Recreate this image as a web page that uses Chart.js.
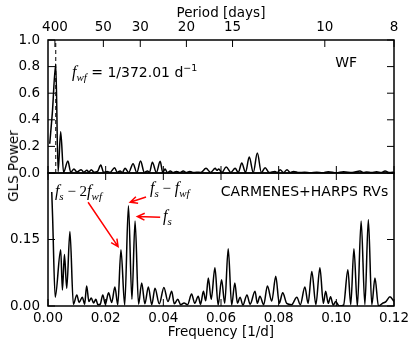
<!DOCTYPE html>
<html>
<head>
<meta charset="utf-8">
<script src="https://cdn.jsdelivr.net/npm/chart.js@4"></script>
<style>
html, body { margin:0; padding:0; background:#fff; }
#wrap { position:relative; width:415px; height:350px; overflow:hidden; }
#wrap canvas { position:absolute; left:0; }
#topChart { top:0; }
#botChart { top:164px; }
#ylab { position:absolute; left:13px; top:166px; transform:translate(-50%,-50%) rotate(-90deg);
        font:13.5px "DejaVu Sans", sans-serif; white-space:nowrap; color:#000; }
</style>
</head>
<body>
<div id="wrap">
  <canvas id="topChart" width="415" height="182"></canvas>
  <canvas id="botChart" width="415" height="186"></canvas>
  <div id="ylab">GLS Power</div>
</div>
<script>
// GLS periodograms: window function (top) and RVs (bottom)
const FWF = 1/372.01;
const periodTicks = [400, 50, 30, 20, 15, 10, 8];

const wfFreq = [0.0006,0.0015,0.0027,0.0035,0.0044,0.0054,0.0069,0.0079,0.0090,0.0100,
  0.0115,0.0124,0.0135,0.0142,0.0150,0.0160,0.0172,0.0183,0.0193,0.0205,
  0.0215,0.0231,0.0240,0.0250,0.0258,0.0267,0.0280,0.0295,0.0308,0.0321,
  0.0334,0.0345,0.0352,0.0362,0.0376,0.0389,0.0398,0.0406,0.0414,0.0424,
  0.0434,0.0446,0.0457,0.0469,0.0480,0.0492,0.0504,0.0515,0.0530,0.0548,
  0.0564,0.0580,0.0586,0.0592,0.0603,0.0618,0.0634,0.0649,0.0660,0.0672,
  0.0685,0.0698,0.0712,0.0726,0.0740,0.0753,0.0767,0.0787,0.0796,0.0805,
  0.0817,0.0829,0.0840,0.0852,0.0870,0.0890,0.0910,0.0932,0.0952,0.0972,
  0.1000,0.1025,0.1055,0.1082,0.1095,0.1105,0.1122,0.1140,0.1155,0.1169,
  0.1185,0.1200];
const wfPow = [0.22,0.45,0.82,0.01,0.31,0.005,0.09,0.005,0.03,0.008,
  0.025,0.006,0.02,0.006,0.025,0.005,0.012,0.06,0.004,0.012,
  0.004,0.04,0.005,0.015,0.004,0.035,0.004,0.07,0.003,0.09,
  0.004,0.015,0.004,0.08,0.003,0.088,0.004,0.03,0.004,0.015,
  0.003,0.012,0.003,0.015,0.003,0.012,0.003,0.006,0.004,0.035,
  0.004,0.035,0.02,0.03,0.004,0.045,0.004,0.035,0.004,0.075,
  0.004,0.12,0.004,0.15,0.004,0.04,0.003,0.012,0.003,0.025,
  0.003,0.025,0.003,0.012,0.003,0.006,0.002,0.006,0.002,0.01,
  0.002,0.01,0.003,0.015,0.003,0.008,0.003,0.01,0.003,0.015,
  0.003,0.006];

const rvFreq = [0.0013,0.0016,0.0025,0.0044,0.0050,0.0057,0.0065,0.0076,0.0088,0.0100,
  0.0108,0.0119,0.0127,0.0134,0.0142,0.0150,0.0158,0.0166,0.0173,0.0181,
  0.0190,0.0199,0.0210,0.0221,0.0232,0.0242,0.0253,0.0266,0.0279,0.0291,
  0.0302,0.0314,0.0325,0.0336,0.0348,0.0360,0.0371,0.0386,0.0402,0.0416,
  0.0429,0.0438,0.0450,0.0460,0.0472,0.0484,0.0498,0.0509,0.0521,0.0529,
  0.0539,0.0547,0.0556,0.0566,0.0579,0.0590,0.0602,0.0613,0.0625,0.0637,
  0.0648,0.0657,0.0666,0.0676,0.0690,0.0701,0.0718,0.0726,0.0735,0.0748,
  0.0761,0.0776,0.0790,0.0802,0.0814,0.0828,0.0845,0.0863,0.0875,0.0891,
  0.0902,0.0915,0.0929,0.0943,0.0955,0.0963,0.0972,0.0980,0.0989,0.0998,
  0.1010,0.1025,0.1040,0.1050,0.1061,0.1073,0.1086,0.1099,0.1111,0.1123,
  0.1134,0.1146,0.1160,0.1172,0.1186,0.1200];
const rvPow = [0.257,0.20,0.02,0.127,0.036,0.116,0.04,0.168,0.004,0.025,
  0.008,0.02,0.004,0.045,0.01,0.018,0.007,0.015,0.003,0.004,
  0.025,0.004,0.03,0.008,0.043,0.003,0.127,0.002,0.226,0.015,
  0.192,0.004,0.052,0.005,0.043,0.003,0.04,0.005,0.042,0.01,
  0.033,0.005,0.015,0.003,0.007,0.003,0.027,0.006,0.022,0.004,
  0.033,0.012,0.063,0.015,0.086,0.002,0.059,0.006,0.129,0.002,
  0.052,0.006,0.02,0.002,0.025,0.004,0.033,0.006,0.022,0.003,
  0.045,0.011,0.067,0.006,0.03,0.006,0.003,0.02,0.003,0.043,
  0.006,0.078,0.003,0.086,0.006,0.033,0.006,0.021,0.002,0.01,
  0.0,0.002,0.082,0.003,0.129,0.0,0.192,0.003,0.195,0.003,
  0.063,0.0,0.006,0.01,0.021,0.01];

const FONT = '"DejaVu Sans", sans-serif';
Chart.defaults.font.family = FONT;
Chart.defaults.font.size = 13.5;
Chart.defaults.color = '#000';

const pts = (xs, ys) => xs.map((x, i) => ({x, y: ys[i]}));

// inward ticks on every spine + the frame box
const inTicks = {
  id: 'inTicks',
  afterDraw(chart, args, opts) {
    const {ctx, chartArea: a} = chart;
    const L = 7;
    ctx.save();
    ctx.strokeStyle = '#000';
    ctx.lineWidth = 1;
    ctx.beginPath();
    Object.values(chart.scales).forEach(s => {
      s.ticks.forEach(t => {
        const p = s.getPixelForValue(t.value);
        if (s.isHorizontal()) {
          if (s.position === 'top' || opts.mirrorX) { ctx.moveTo(p, a.top); ctx.lineTo(p, a.top + L); }
          if (s.position === 'bottom') { ctx.moveTo(p, a.bottom); ctx.lineTo(p, a.bottom - L); }
        } else {
          ctx.moveTo(a.left, p); ctx.lineTo(a.left + L, p);
          ctx.moveTo(a.right, p); ctx.lineTo(a.right - L, p);
        }
      });
    });
    ctx.stroke();
    ctx.lineWidth = 1.5;
    ctx.strokeRect(a.left, a.top, a.width, a.height);
    ctx.restore();
  }
};

const FONTS = {
  i: 'italic 16px "Liberation Serif", serif',
  s: 'italic 11px "Liberation Serif", serif',
  r: '15px "Liberation Serif", serif',
  n: '14px ' + FONT,
  u: '9.5px ' + FONT,
};
const SHIFT = {i: 0, s: 4, r: 0, n: 0, u: -6};

function drawRuns(ctx, runs, x, y, align) {
  let w = 0;
  runs.forEach(([t, k]) => { ctx.font = FONTS[k]; w += ctx.measureText(t).width; });
  let cx = align === 'right' ? x - w : x;
  ctx.textAlign = 'left';
  ctx.textBaseline = 'alphabetic';
  runs.forEach(([t, k]) => {
    ctx.font = FONTS[k];
    ctx.fillText(t, cx, y + SHIFT[k]);
    cx += ctx.measureText(t).width;
  });
}

function drawArrow(ctx, x0, y0, x1, y1) {
  const ang = Math.atan2(y1 - y0, x1 - x0), hl = 8, hw = 0.45;
  ctx.beginPath();
  ctx.moveTo(x0, y0); ctx.lineTo(x1, y1);
  ctx.moveTo(x1 - hl * Math.cos(ang - hw), y1 - hl * Math.sin(ang - hw));
  ctx.lineTo(x1, y1);
  ctx.lineTo(x1 - hl * Math.cos(ang + hw), y1 - hl * Math.sin(ang + hw));
  ctx.stroke();
}

// text + arrows placed in data coordinates
const notes = {
  id: 'notes',
  afterDatasetsDraw(chart, args, opts) {
    const {ctx} = chart;
    const xs = chart.scales.x, ys = chart.scales.y;
    ctx.save();
    ctx.fillStyle = '#000';
    (opts.texts || []).forEach(n => {
      drawRuns(ctx, n.runs, xs.getPixelForValue(n.x), ys.getPixelForValue(n.y), n.align);
    });
    ctx.strokeStyle = '#ff0000';
    ctx.lineWidth = 1.5;
    (opts.arrows || []).forEach(a => {
      drawArrow(ctx, xs.getPixelForValue(a.from[0]), ys.getPixelForValue(a.from[1]),
                     xs.getPixelForValue(a.to[0]), ys.getPixelForValue(a.to[1]));
    });
    ctx.restore();
  }
};

const lineDS = (data) => ({
  data, borderColor: '#000', borderWidth: 1.5, pointRadius: 0,
  cubicInterpolationMode: 'monotone', fill: false,
});

// y label offset comes from tickLength (padding would inflate the layout)
const yGrid = { display: false, drawTicks: true, tickLength: 8 };

new Chart(document.getElementById('topChart'), {
  type: 'line',
  data: { datasets: [
    lineDS(pts(wfFreq, wfPow)),
    { data: [{x: FWF, y: 0}, {x: FWF, y: 1}], borderColor: '#000', borderWidth: 1,
      borderDash: [4, 3], pointRadius: 0 },
  ]},
  options: {
    responsive: false, animation: false, events: [],
    layout: { padding: { left: 0, right: 21, top: 0, bottom: 0 } },
    plugins: { legend: {display: false}, tooltip: {enabled: false},
      inTicks: { mirrorX: false },
      notes: { texts: [
        { x: 0.0083, y: 0.72, runs: [['f','i'], ['wf','s'], [' = 1/372.01 d','n'], ['\u22121','u']] },
        { x: 0.1072, y: 0.80, align: 'right', runs: [['WF','n']] },
      ]},
    },
    scales: {
      x: { type: 'linear', position: 'bottom', min: 0, max: 0.12,
           ticks: { display: false, stepSize: 0.02, padding: 0 },
           grid: { display: false, drawTicks: false }, border: { display: false },
           afterFit: s => { s.height = 9; } },
      x2: { type: 'linear', position: 'top', min: 0, max: 0.125,
            afterBuildTicks: s => { s.ticks = periodTicks.map(p => ({value: 1/p})); },
            ticks: { padding: 4, callback: v => String(Math.round(1/v)) },
            title: { display: true, text: 'Period [days]', padding: {top: 5, bottom: 0} },
            grid: { display: false, drawTicks: false }, border: { display: false },
            afterFit: s => { s.height = 40; } },
      y: { min: 0, max: 1,
           ticks: { stepSize: 0.2, padding: 0, callback: v => v.toFixed(1) },
           grid: yGrid, border: { display: false },
           afterFit: s => { s.width = 48; } },
    },
  },
  plugins: [inTicks, notes],
});

new Chart(document.getElementById('botChart'), {
  type: 'line',
  data: { datasets: [ lineDS(pts(rvFreq, rvPow)) ] },
  options: {
    responsive: false, animation: false, events: [],
    layout: { padding: { left: 0, right: 21, top: 9, bottom: 0 } },
    plugins: { legend: {display: false}, tooltip: {enabled: false},
      inTicks: { mirrorX: true },
      notes: {
        texts: [
          { x: 0.118, y: 0.248, align: 'right', runs: [['CARMENES+HARPS RVs','n']] },
          { x: 0.0024, y: 0.248, runs: [['f','i'], ['s','s'], [' \u2212 2','r'], ['f','i'], ['wf','s']] },
          { x: 0.0354, y: 0.255, runs: [['f','i'], ['s','s'], [' \u2212 ','r'], ['f','i'], ['wf','s']] },
          { x: 0.0399, y: 0.191, runs: [['f','i'], ['s','s']] },
        ],
        arrows: [
          { from: [0.0139, 0.234], to: [0.0243, 0.134] },
          { from: [0.0340, 0.246], to: [0.0285, 0.234] },
          { from: [0.0389, 0.200], to: [0.0310, 0.202] },
        ],
      },
    },
    scales: {
      x: { type: 'linear', position: 'bottom', min: 0, max: 0.12,
           ticks: { stepSize: 0.02, padding: 4, callback: v => v.toFixed(2) },
           title: { display: true, text: 'Frequency [1/d]', padding: {top: 0, bottom: 9} },
           grid: { display: false, drawTicks: false }, border: { display: false },
           afterFit: s => { s.height = 44; } },
      y: { min: 0, max: 0.30,
           ticks: { stepSize: 0.15, padding: 0, callback: v => v > 0.29 ? '' : v.toFixed(2) },
           grid: yGrid, border: { display: false },
           afterFit: s => { s.width = 48; } },
    },
  },
  plugins: [inTicks, notes],
});
</script>
</body>
</html>
